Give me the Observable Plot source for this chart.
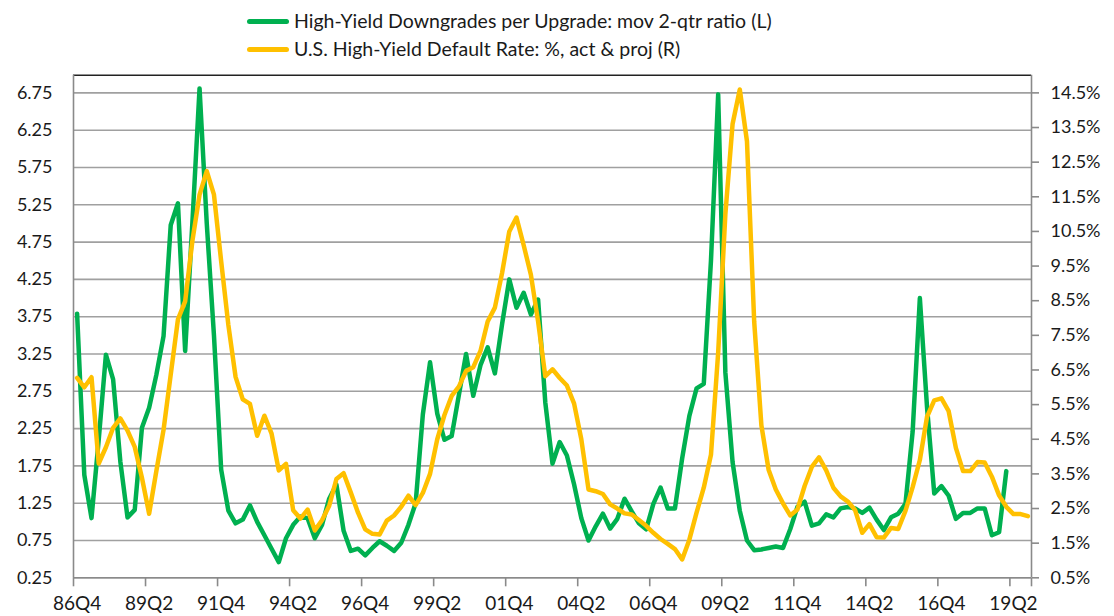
<!DOCTYPE html>
<html><head><meta charset="utf-8">
<script src="https://cdn.jsdelivr.net/npm/d3@7"></script>
<script src="https://cdn.jsdelivr.net/npm/@observablehq/plot@0.6"></script>
<style>
body{margin:0;background:#fff;font-family:Lato,sans-serif;}
#legend{position:relative;height:62px;width:1114px;}
.item{position:absolute;left:247px;display:flex;align-items:center;font-size:19.5px;color:#1a1a1a;line-height:22px;white-space:nowrap;}
.sw{width:42px;height:5px;border-radius:2.5px;margin-right:5px;}
</style></head>
<body>
<div id="legend"></div>
<div id="chart"></div>
<script>
// Categories: quarters 86Q4 .. 19Q4
const startYear = 1986, startQ = 4, nQuarters = 133;
const quarters = [];
for (let k = 0; k < nQuarters; k++) {
  const q0 = startQ - 1 + k;
  const yr = startYear + Math.floor(q0 / 4);
  quarters.push(String(yr % 100).padStart(2, "0") + "Q" + (q0 % 4 + 1));
}
const tickLabels = ["86Q4","89Q2","91Q4","94Q2","96Q4","99Q2","01Q4","04Q2","06Q4","09Q2","11Q4","14Q2","16Q4","19Q2"];

const seriesNames = [
  "High-Yield Downgrades per Upgrade: mov 2-qtr ratio (L)",
  "U.S. High-Yield Default Rate: %, act & proj (R)"
];
const seriesColors = ["#00b050", "#ffc000"];

// High-Yield Downgrades per Upgrade (left axis), 86Q4..19Q1
const downgrades = [
3.79,1.63,1.05,2.1,3.24,2.91,1.81,1.06,1.16,2.26,
2.53,2.97,3.49,4.98,5.27,3.29,5.0,6.81,5.0,3.5,
1.7,1.15,0.98,1.03,1.22,1.0,0.82,0.64,0.46,0.78,
0.96,1.07,1.05,0.78,0.96,1.31,1.5,0.88,0.61,0.64,
0.55,0.65,0.74,0.68,0.61,0.72,0.96,1.25,2.44,3.14,
2.45,2.1,2.15,2.7,3.25,2.69,3.1,3.34,2.99,3.65,
4.25,3.87,4.07,3.78,3.98,2.6,1.78,2.07,1.89,1.5,
1.05,0.75,0.94,1.11,0.91,1.04,1.31,1.14,0.98,0.9,
1.24,1.46,1.18,1.18,1.85,2.42,2.79,2.85,4.5,6.73,
3.0,1.8,1.15,0.75,0.62,0.63,0.65,0.67,0.65,0.9,
1.2,1.27,0.95,0.98,1.1,1.06,1.18,1.2,1.18,1.12,
1.19,1.03,0.89,1.06,1.11,1.24,2.21,4.0,2.53,1.38,
1.48,1.35,1.04,1.12,1.12,1.18,1.18,0.82,0.86,1.68
];

// U.S. High-Yield Default Rate % (right axis), 86Q4..19Q4
const defaultRate = [
6.27,6.0,6.29,3.8,4.27,4.83,5.1,4.75,4.28,3.39,
2.35,3.58,4.77,6.37,7.96,8.48,10.22,11.56,12.24,11.56,
9.64,7.8,6.3,5.65,5.52,4.6,5.18,4.66,3.6,3.79,
2.45,2.21,2.47,1.87,2.16,2.58,3.35,3.52,2.96,2.38,
1.9,1.77,1.75,2.15,2.3,2.55,2.87,2.6,2.95,3.5,
4.5,5.2,5.75,6.02,6.47,6.58,7.05,7.9,8.3,9.3,
10.5,10.9,10.1,9.25,7.9,6.32,6.52,6.27,6.05,5.53,
4.5,3.05,3.0,2.92,2.62,2.5,2.36,2.33,2.17,2.0,
1.8,1.62,1.48,1.33,1.03,1.6,2.38,3.1,4.05,7.0,
11.0,13.6,14.6,13.1,7.9,4.9,3.62,3.05,2.65,2.3,
2.47,3.15,3.7,3.98,3.6,3.1,2.85,2.7,2.46,1.8,
2.05,1.67,1.66,1.94,1.91,2.43,3.12,3.9,5.15,5.62,
5.68,5.31,4.25,3.58,3.58,3.84,3.83,3.42,2.88,2.55,
2.34,2.34,2.28
];

const leftTicks = [0.25,0.75,1.25,1.75,2.25,2.75,3.25,3.75,4.25,4.75,5.25,5.75,6.25,6.75];
const rightTicks = [0.5,1.5,2.5,3.5,4.5,5.5,6.5,7.5,8.5,9.5,10.5,11.5,12.5,13.5,14.5];

// map right-axis values onto left-axis units (0.5% <-> 0.25, 14.5% <-> 6.75)
const L0 = 0.25, L1 = 6.75, R0 = 0.5, R1 = 14.5;
const toLeft = r => L0 + (r - R0) * (L1 - L0) / (R1 - R0);
const toRight = l => R0 + (l - L0) * (R1 - R0) / (L1 - L0);

const greenData = downgrades.map((v, i) => ({i, v}));
const yellowData = defaultRate.map((v, i) => ({i, v: toLeft(v)}));
const labelIdx = tickLabels.map(t => quarters.indexOf(t));
const boundaryIdx = labelIdx.map(i => i - 0.5).concat([nQuarters - 0.5]);

// legend
const legend = document.getElementById("legend");
seriesNames.forEach((name, k) => {
  const d = document.createElement("div");
  d.className = "item";
  d.style.top = (10 + k * 28) + "px";
  d.innerHTML = `<span class="sw" style="background:${seriesColors[k]}"></span><span>${name.replace(/&/g,"&amp;")}</span>`;
  legend.appendChild(d);
});

const chart = Plot.plot({
  width: 1114, height: 554,
  marginLeft: 73, marginRight: 83, marginTop: 12.7, marginBottom: 38.7,
  x: {domain: [-0.5, nQuarters - 0.5], axis: null, label: null},
  y: {domain: [0.25, 6.987], axis: null, label: null},
  style: {fontFamily: "Lato, sans-serif", fontSize: "18px", color: "#1a1a1a", background: "#fff"},
  marks: [
    Plot.ruleY(leftTicks, {stroke: "#a0a0a0", strokeWidth: 1.6}),
    Plot.ruleY([6.987], {stroke: "#222", strokeWidth: 1.6}),
    Plot.ruleX([-0.5, nQuarters - 0.5], {stroke: "#8a8a8a", strokeWidth: 1.6}),
    Plot.ruleY([0.25], {stroke: "#8a8a8a", strokeWidth: 1.6}),
    Plot.axisY({anchor: "left", label: null, ticks: leftTicks, tickSize: 0, tickPadding: 21,
      tickFormat: d3.format(".2f"), fontSize: 18, fill: "#1a1a1a"}),
    Plot.axisY({anchor: "right", label: null, ticks: rightTicks.map(toLeft), tickSize: 7, tickPadding: 12,
      tickFormat: l => toRight(l).toFixed(1) + "%", fontSize: 18, fill: "#1a1a1a", stroke: "#8a8a8a", strokeWidth: 1.6}),
    Plot.axisX({label: null, ticks: labelIdx, tickSize: 0, tickPadding: 19,
      tickFormat: i => quarters[i], fontSize: 19, fill: "#1a1a1a"}),
    Plot.axisX({label: null, ticks: boundaryIdx, tickSize: 9, tickFormat: () => "", stroke: "#8a8a8a", strokeWidth: 1.6}),
    Plot.lineY(greenData, {x: "i", y: "v", stroke: seriesColors[0], strokeWidth: 4.5, strokeLinejoin: "round"}),
    Plot.lineY(yellowData, {x: "i", y: "v", stroke: seriesColors[1], strokeWidth: 4.5, strokeLinejoin: "round"})
  ]
});
document.getElementById("chart").appendChild(chart);
</script>
</body></html>
